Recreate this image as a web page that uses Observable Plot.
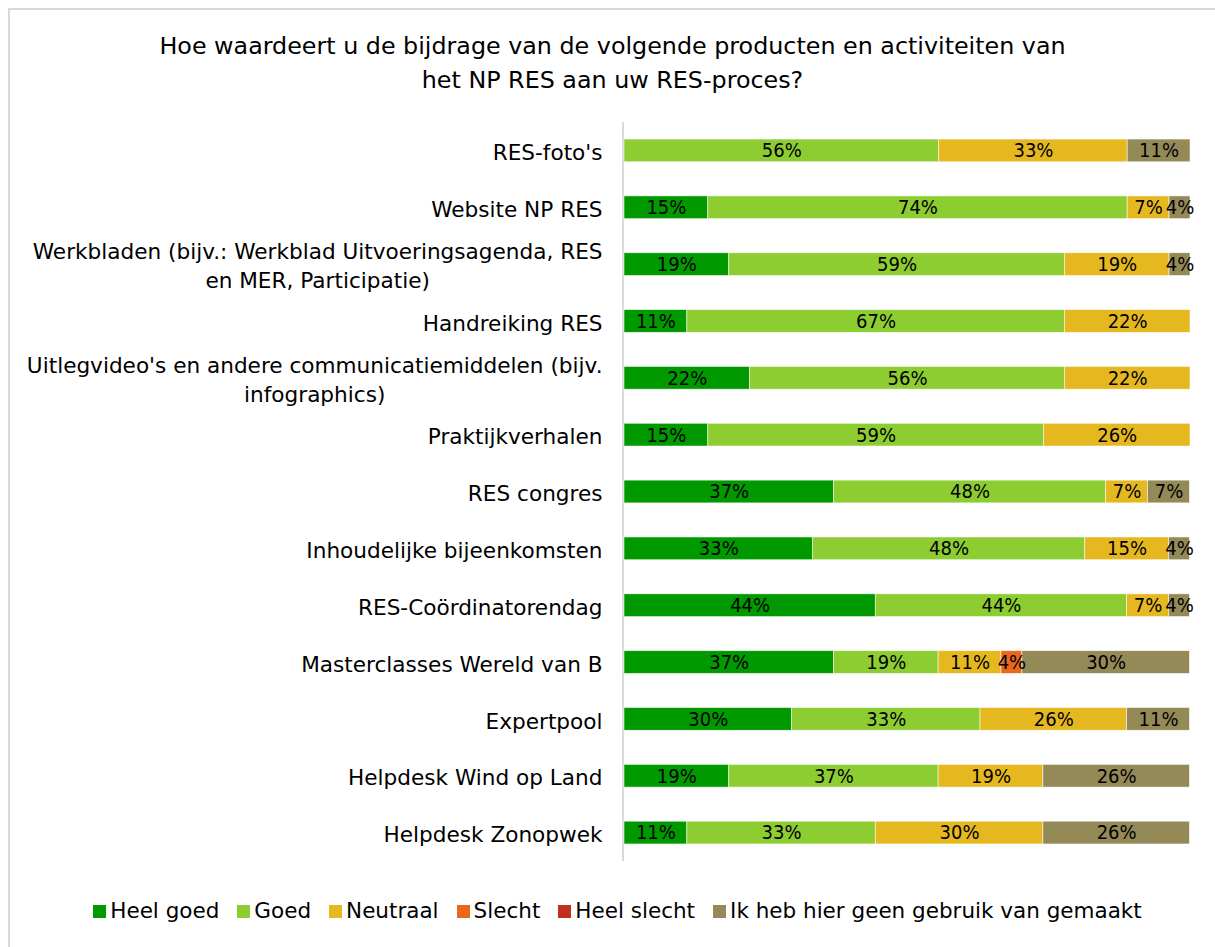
<!DOCTYPE html>
<html>
<head>
<meta charset="utf-8">
<script src="https://cdn.jsdelivr.net/npm/d3@7"></script>
<script src="https://cdn.jsdelivr.net/npm/@observablehq/plot@0.6"></script>
<style>
  html, body { margin: 0; padding: 0; background: #fff; }
  body { width: 1215px; height: 947px; position: relative; overflow: hidden;
         font-family: "DejaVu Sans", sans-serif; color: #000; }
  #frame { position: absolute; left: 8px; top: 8px; width: 1230px; height: 960px;
           border-left: 2px solid #d9d9d9; border-top: 2px solid #d9d9d9; }
  #title { position: absolute; left: 10px; width: 1205px; top: 29px; text-align: center;
           font-size: 23.8px; line-height: 34px; }
  #chart { position: absolute; left: 0; top: 122px; line-height: 0; }
  #legend { position: absolute; left: 10px; width: 1215px; top: 897px; display: flex;
            justify-content: center; font-size: 21.5px; line-height: 28px; }
  .item { display: flex; align-items: center; margin: 0 9px; }
  .sw { width: 13px; height: 13px; margin-right: 4px; }
</style>
</head>
<body>
<div id="frame"></div>
<div id="title">Hoe waardeert u de bijdrage van de volgende producten en activiteiten van<br>het NP RES aan uw RES-proces?</div>
<div id="chart"></div>
<div id="legend"></div>
<script>
const categories = [
  "RES-foto's",
  "Website NP RES",
  "Werkbladen (bijv.: Werkblad Uitvoeringsagenda, RES\nen MER, Participatie)",
  "Handreiking RES",
  "Uitlegvideo's en andere communicatiemiddelen (bijv.\ninfographics)",
  "Praktijkverhalen",
  "RES congres",
  "Inhoudelijke bijeenkomsten",
  "RES-Coördinatorendag",
  "Masterclasses Wereld van B",
  "Expertpool",
  "Helpdesk Wind op Land",
  "Helpdesk Zonopwek"
];
const seriesNames = ["Heel goed", "Goed", "Neutraal", "Slecht", "Heel slecht", "Ik heb hier geen gebruik van gemaakt"];
const seriesColors = ["#009900", "#8dcd32", "#e6b820", "#e8681c", "#c0301c", "#948a58"];

const heelGoed    = [0,    14.8, 18.5, 11.1, 22.2, 14.8, 37.0, 33.3, 44.4, 37.0, 29.6, 18.5, 11.1];
const goed        = [55.6, 74.1, 59.3, 66.7, 55.6, 59.3, 48.1, 48.1, 44.4, 18.5, 33.3, 37.0, 33.3];
const neutraal    = [33.3, 7.4,  18.5, 22.2, 22.2, 25.9, 7.4,  14.8, 7.4,  11.1, 25.9, 18.5, 29.6];
const slecht      = [0,    0,    0,    0,    0,    0,    0,    0,    0,    3.7,  0,    0,    0];
const heelSlecht  = [0,    0,    0,    0,    0,    0,    0,    0,    0,    0,    0,    0,    0];
const geenGebruik = [11.1, 3.7,  3.7,  0,    0,    0,    7.4,  3.7,  3.7,  29.6, 11.1, 25.9, 25.9];

const seriesValues = [heelGoed, goed, neutraal, slecht, heelSlecht, geenGebruik];

const rows = [];
categories.forEach((c, i) => {
  seriesNames.forEach((s, j) => {
    const v = seriesValues[j][i];
    if (v > 0) rows.push({category: c, series: s, value: v});
  });
});

const chart = Plot.plot({
  width: 1215,
  height: 739,
  marginLeft: 624,
  marginRight: 25,
  marginTop: 0,
  marginBottom: 0,
  style: {fontFamily: '"DejaVu Sans", sans-serif', fontSize: "21.6px", color: "#000", background: "transparent"},
  x: {domain: [0, 100], axis: null},
  y: {domain: categories, paddingInner: 0.6, paddingOuter: 0.3, round: false, axis: null},
  color: {domain: seriesNames, range: seriesColors},
  marks: [
    Plot.ruleX([0], {stroke: "#d9d9d9", strokeWidth: 2, dx: -1.5}),
    Plot.barX(rows, Plot.stackX({x: "value", y: "category", fill: "series", order: seriesNames,
      stroke: "#ffffff", strokeOpacity: 0.7, strokeWidth: 0.75})),
    Plot.text(rows, Plot.stackX({x: "value", y: "category", z: "series", order: seriesNames,
      text: d => Math.round(d.value) + "%", fill: "#000", fontSize: 20,
      fontFamily: '"DejaVu Sans Condensed", "DejaVu Sans", sans-serif'})),
    Plot.axisY({tickSize: 0, tickPadding: 22, fontSize: 21.6, lineHeight: 1.33, color: "#000", label: null})
  ]
});
document.getElementById("chart").appendChild(chart);

// Center the lines of wrapped category labels within their right-aligned block
chart.querySelectorAll('g[aria-label="y-axis tick label"] text').forEach(t => {
  const spans = t.querySelectorAll("tspan");
  if (spans.length > 1) {
    let w = 0;
    spans.forEach(s => { w = Math.max(w, s.getComputedTextLength()); });
    t.setAttribute("text-anchor", "middle");
    spans.forEach(s => s.setAttribute("x", -w / 2));
  }
});

const legend = document.getElementById("legend");
seriesNames.forEach((s, j) => {
  const item = document.createElement("div");
  item.className = "item";
  const sw = document.createElement("div");
  sw.className = "sw";
  sw.style.background = seriesColors[j];
  const lab = document.createElement("span");
  lab.textContent = s;
  item.appendChild(sw);
  item.appendChild(lab);
  legend.appendChild(item);
});
</script>
</body>
</html>
